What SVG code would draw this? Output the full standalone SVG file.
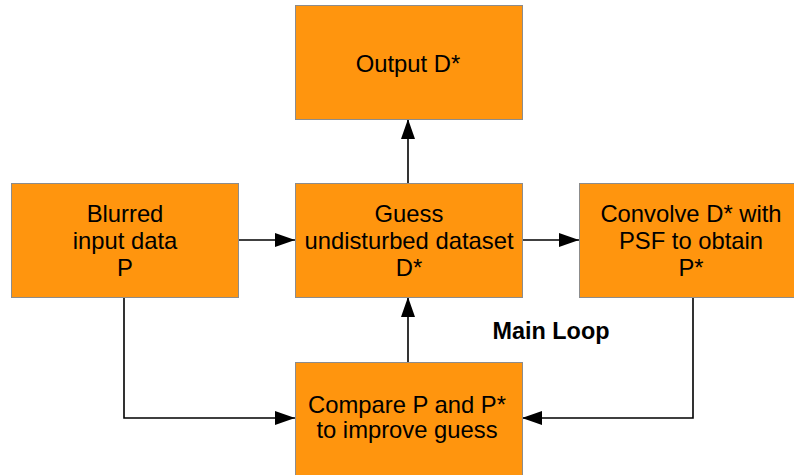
<svg xmlns="http://www.w3.org/2000/svg" width="794" height="475" viewBox="0 0 794 475">
  <defs>
    <style>
      .box { fill: #ff950e; stroke: #8c8c8c; stroke-width: 1; }
      .lbl { font-family: "Liberation Sans", Arial, sans-serif; font-size: 23.8px; fill: #000; text-anchor: middle; }
      .conn { fill: none; stroke: #000; stroke-width: 1.6; }
      .bold { font-family: "Liberation Sans", Arial, sans-serif; font-size: 23.4px; font-weight: bold; fill: #000; text-anchor: middle; }
    </style>
    <marker id="arr" viewBox="0 0 20 14" refX="20" refY="7" markerWidth="20" markerHeight="14" markerUnits="userSpaceOnUse" orient="auto">
      <path d="M0,0 L20,7 L0,14 Z" fill="#000"/>
    </marker>
  </defs>
  <rect width="794" height="475" fill="#fff"/>

  <g id="connectors">
    <line class="conn" x1="238" y1="240" x2="295" y2="240" marker-end="url(#arr)"/>
    <line class="conn" x1="522" y1="240" x2="579" y2="240" marker-end="url(#arr)"/>
    <line class="conn" x1="408" y1="183" x2="408" y2="119" marker-end="url(#arr)"/>
    <line class="conn" x1="408" y1="362" x2="408" y2="297" marker-end="url(#arr)"/>
    <polyline class="conn" points="124,297 124,418 295,418" marker-end="url(#arr)"/>
    <polyline class="conn" points="693,297 693,418 522,418" marker-end="url(#arr)"/>
  </g>

  <g id="output">
    <rect class="box" x="295.5" y="5.5" width="227" height="114"/>
    <text class="lbl" x="408" y="72">Output D*</text>
  </g>

  <g id="blurred">
    <rect class="box" x="11.5" y="183.5" width="227" height="114"/>
    <text class="lbl" x="125" y="222">Blurred</text>
    <text class="lbl" x="125" y="249">input data</text>
    <text class="lbl" x="125" y="276">P</text>
  </g>

  <g id="guess">
    <rect class="box" x="295.5" y="183.5" width="227" height="114"/>
    <text class="lbl" x="409" y="222">Guess</text>
    <text class="lbl" x="409" y="249">undisturbed dataset</text>
    <text class="lbl" x="409" y="276">D*</text>
  </g>

  <g id="convolve">
    <rect class="box" x="579.5" y="183.5" width="227" height="114"/>
    <text class="lbl" x="691" y="222">Convolve D* with</text>
    <text class="lbl" x="691" y="249">PSF to obtain</text>
    <text class="lbl" x="691" y="276">P*</text>
  </g>

  <g id="compare">
    <rect class="box" x="295.5" y="362.5" width="227" height="114"/>
    <text class="lbl" x="407" y="413">Compare P and P*</text>
    <text class="lbl" x="407" y="438">to improve guess</text>
  </g>

  <g id="mainloop">
    <text class="bold" x="551" y="339">Main Loop</text>
  </g>
</svg>
